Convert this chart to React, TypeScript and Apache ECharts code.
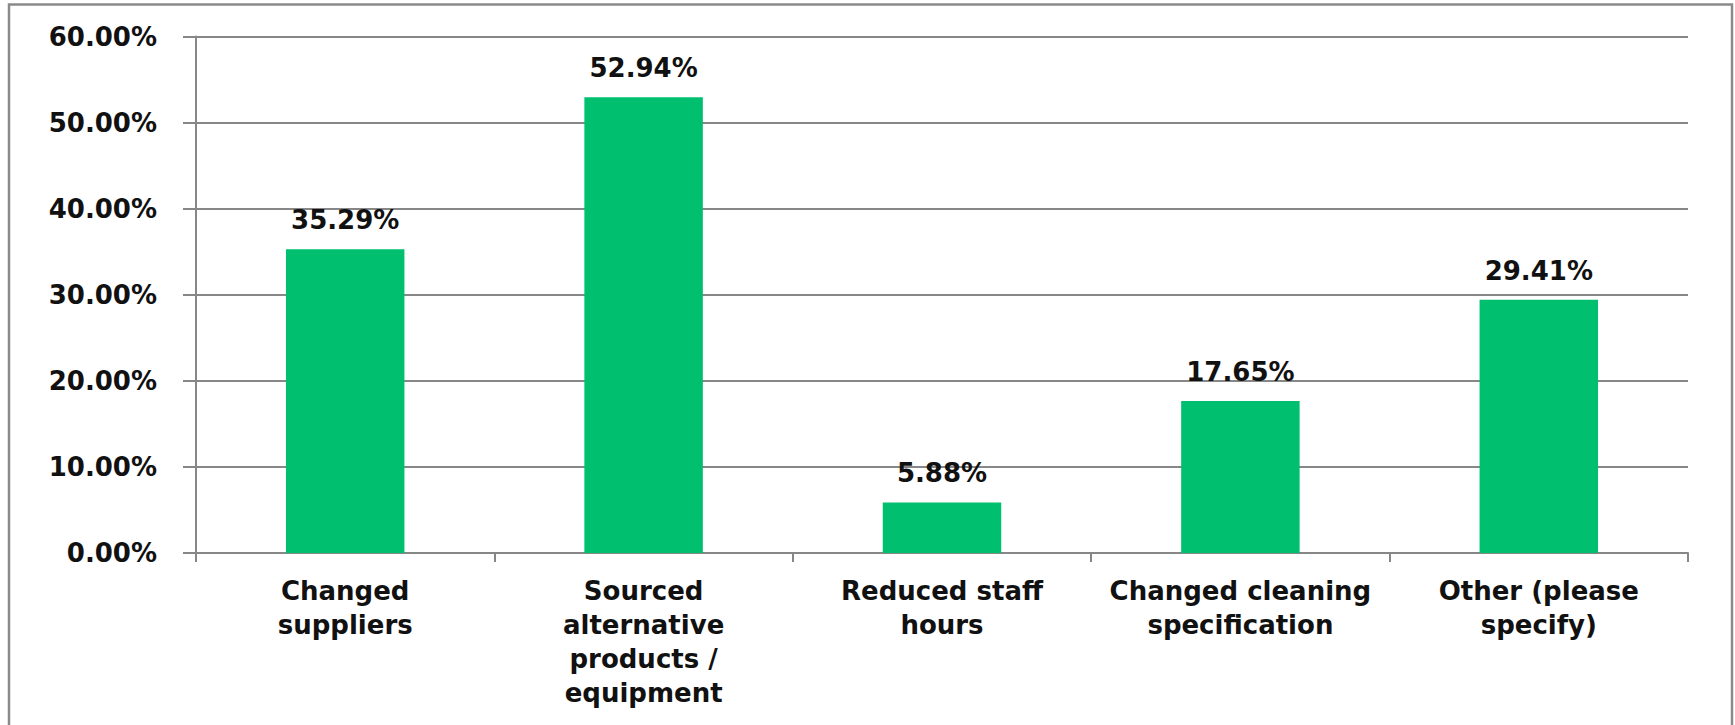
import React, { useEffect, useRef } from "react";
import * as echarts from "echarts";

const categories = [
  "Changed\nsuppliers",
  "Sourced\nalternative\nproducts /\nequipment",
  "Reduced staff\nhours",
  "Changed cleaning\nspecification",
  "Other (please\nspecify)",
];
const values = [35.29, 52.94, 5.88, 17.65, 29.41];
const yMin = 0;
const yMax = 60;
const yInterval = 10;

const FONT = "'DejaVu Sans', Verdana, sans-serif";
const GRAY = "#878787";

export default function App() {
  const ref = useRef<HTMLDivElement>(null);
  useEffect(() => {
    if (!ref.current) return;
    const chart = echarts.init(ref.current, null, { renderer: "svg" });
    chart.setOption({
      animation: false,
      backgroundColor: "#ffffff",
      graphic: [
        {
          type: "rect",
          shape: { x: 9, y: 4.5, width: 1723, height: 760 },
          style: { fill: "none", stroke: "#8a8a8a", lineWidth: 2.5 },
          silent: true,
        },
      ],
      grid: { left: 196, right: 47, top: 36.5, bottom: 172, containLabel: false },
      xAxis: {
        type: "category",
        data: categories,
        axisLine: { lineStyle: { color: GRAY, width: 2 } },
        axisTick: { show: true, length: 9, lineStyle: { color: GRAY, width: 2 } },
        axisLabel: {
          interval: 0,
          margin: 21,
          fontFamily: FONT,
          fontWeight: "bold",
          fontSize: 26,
          lineHeight: 34,
          color: "#111111",
          align: "center",
          verticalAlign: "top",
        },
        splitLine: { show: false },
      },
      yAxis: {
        type: "value",
        min: yMin,
        max: yMax,
        interval: yInterval,
        axisLine: { show: true, lineStyle: { color: GRAY, width: 2 } },
        axisTick: { show: true, length: 13, lineStyle: { color: GRAY, width: 2 } },
        axisLabel: {
          margin: 39,
          fontFamily: FONT,
          fontWeight: "bold",
          fontSize: 26,
          color: "#111111",
          formatter: (v: number) => v.toFixed(2) + "%",
        },
        splitLine: { show: true, lineStyle: { color: GRAY, width: 2 } },
      },
      series: [
        {
          type: "bar",
          data: values,
          barWidth: "39.7%",
          itemStyle: { color: "#00BF6F" },
          label: {
            show: true,
            position: "top",
            distance: 14,
            fontFamily: FONT,
            fontWeight: "bold",
            fontSize: 26,
            lineHeight: 30,
            color: "#111111",
            formatter: (p: any) => Number(p.value).toFixed(2) + "%",
          },
        },
      ],
    });
    return () => chart.dispose();
  }, []);
  return (
    <div
      ref={ref}
      style={{ position: "fixed", left: 0, top: 0, width: 1735, height: 725 }}
    />
  );
}
